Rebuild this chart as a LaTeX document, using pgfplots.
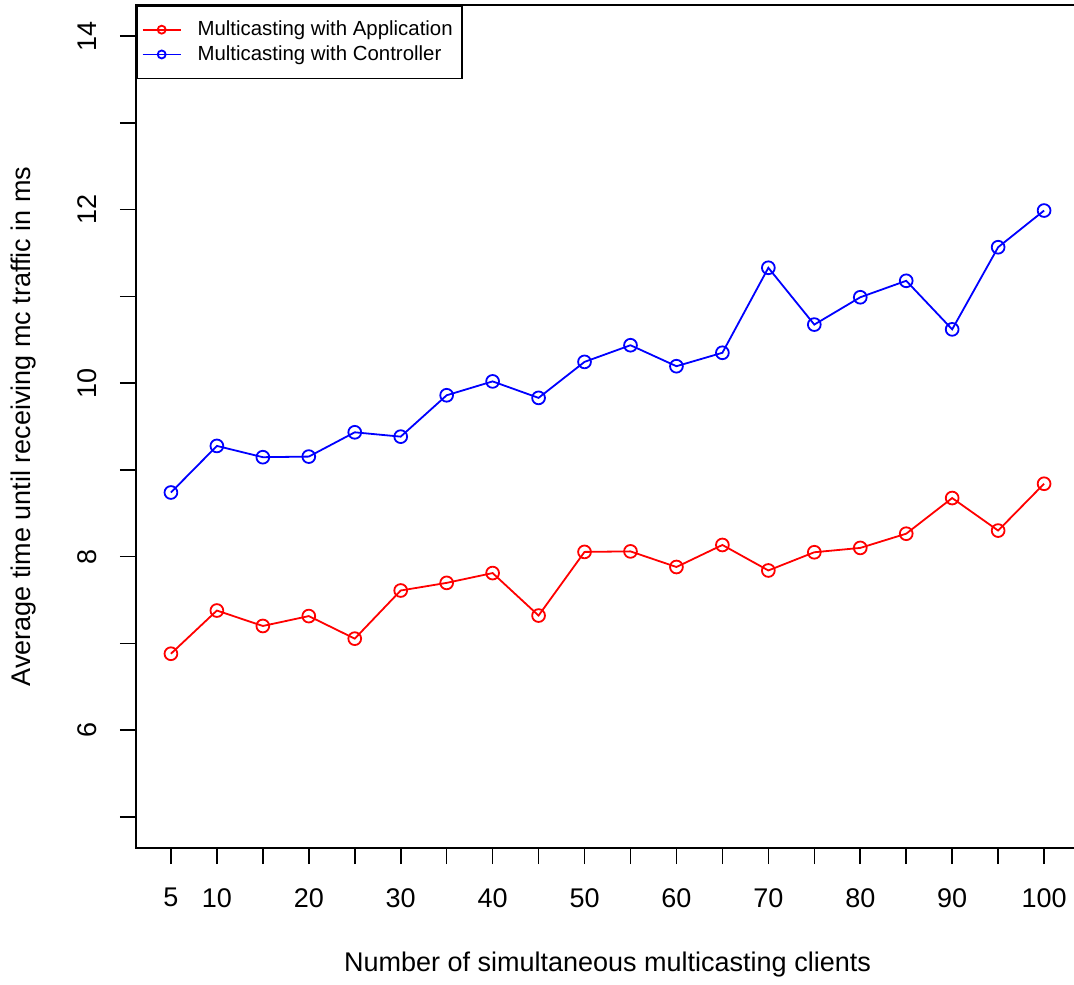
\documentclass[border=0pt]{standalone}
\usepackage{fontspec}
\setmainfont{Liberation Sans}
\usepackage{pgfplots}
\pgfplotsset{compat=1.18}
\begin{document}
\begin{tikzpicture}
\useasboundingbox (0,0) rectangle (537pt,492pt);
\begin{axis}[
  at={(68pt,68pt)}, anchor=south west,
  scale only axis, width=471.5pt, height=421.5pt,
  xmin=1.2, xmax=103.8, ymin=4.64, ymax=14.36,
  axis line style={line width=1pt},
  tick style={line width=0.8pt, black},
  tick align=outside, major tick length=8pt,
  xtick={5,10,...,100},
  xticklabels={5,10,{},20,{},30,{},40,{},50,{},60,{},70,{},80,{},90,{},100},
  ytick={5,6,...,14},
  yticklabels={{},6,{},8,{},10,{},12,{},14},
  xtick pos=bottom, ytick pos=left,
  /pgf/number format/assume math mode=true,
  ticklabel style={font=\fontsize{13.5}{16}\selectfont},
  xticklabel style={anchor=north, inner sep=0pt, yshift=-12pt},
  yticklabel style={rotate=90, anchor=south, inner sep=0pt, yshift=11.5pt},
  label style={font=\fontsize{13.5}{16}\selectfont},
  xlabel={Number of simultaneous multicasting clients},
  ylabel={Average time until receiving mc traffic in ms},
  xlabel style={at={(axis description cs:0.5,-0.1388)}, anchor=center},
  ylabel style={at={(axis description cs:-0.1195,0.5)}, anchor=center, rotate=0},
  legend cell align=left,
  legend style={at={(axis description cs:0,1)}, anchor=north west,
    draw=black, line width=0.8pt, font=\fontsize{10.2}{12}\selectfont,
    inner xsep=2.5pt, inner ysep=5.5pt, row sep=-0.5pt, /tikz/column sep=6pt},
  legend image code/.code={
    \draw[#1, mark=none] (0pt,0pt) -- (19pt,0pt);
    \draw[#1, only marks, mark size=2pt] plot coordinates {(9.5pt,0pt)};
  },
]
\addplot[red, line width=0.9pt, mark=o, mark size=3.2pt, mark options={line width=0.9pt}] coordinates {
(5,6.88) (10,7.378) (15,7.20) (20,7.314) (25,7.054) (30,7.609) (35,7.697) (40,7.81)
(45,7.32) (50,8.054) (55,8.06) (60,7.88) (65,8.134) (70,7.84) (75,8.05) (80,8.10)
(85,8.264) (90,8.675) (95,8.30) (100,8.84)};
\addlegendentry{Multicasting with Application}
\addplot[blue, line width=0.9pt, mark=o, mark size=3.2pt, mark options={line width=0.9pt}] coordinates {
(5,8.739) (10,9.276) (15,9.146) (20,9.153) (25,9.433) (30,9.383) (35,9.86) (40,10.02)
(45,9.83) (50,10.245) (55,10.437) (60,10.195) (65,10.35) (70,11.33) (75,10.675) (80,10.99)
(85,11.18) (90,10.62) (95,11.567) (100,11.99)};
\addlegendentry{Multicasting with Controller}
\end{axis}
\end{tikzpicture}
\end{document}
